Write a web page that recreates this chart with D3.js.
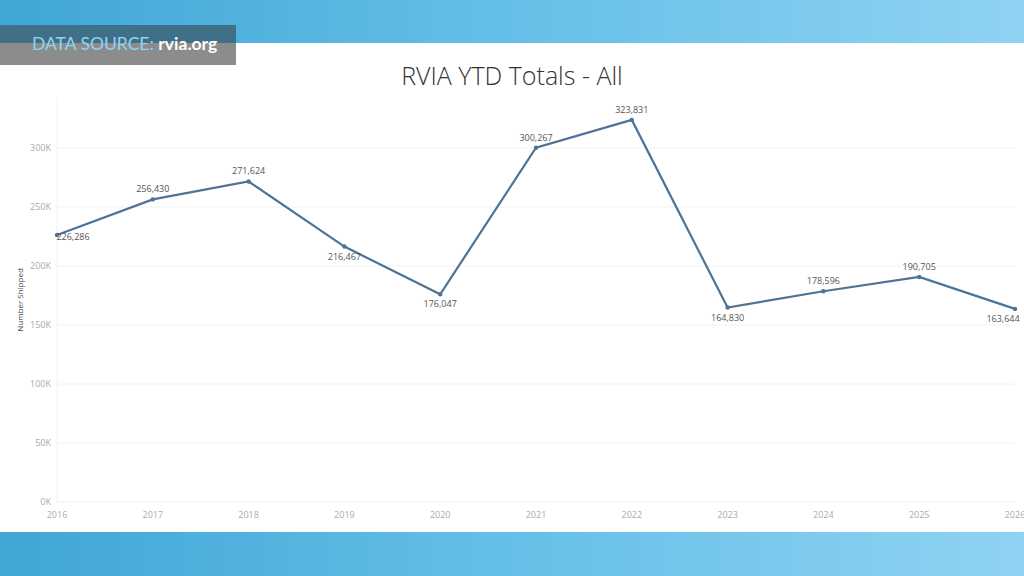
<!DOCTYPE html>
<html><head><meta charset="utf-8">
<script src="https://cdn.jsdelivr.net/npm/d3@7"></script>
<style>body{margin:0;overflow:hidden}svg{display:block}</style>
</head><body>
<svg id="chart" width="1024" height="576"></svg>
<script>
"use strict";

const years = [2016, 2017, 2018, 2019, 2020, 2021, 2022, 2023, 2024, 2025, 2026];
const shipped = [226286, 256430, 271624, 216467, 176047, 300267, 323831, 164830, 178596, 190705, 163644];
const yTicks = [0, 50000, 100000, 150000, 200000, 250000, 300000];
// label above (-1) or below (1) the point
const labelSide = [1, -1, -1, 1, 1, -1, -1, 1, -1, -1, 1];

const svg = d3.select("#chart");
const width = 1024, height = 576;

const defs = svg.append("defs");
const grad = defs.append("linearGradient").attr("id", "band").attr("x1", 0).attr("x2", 1);
grad.append("stop").attr("offset", 0).attr("stop-color", "#3fa6d6");
grad.append("stop").attr("offset", 0.5).attr("stop-color", "#66bfe8");
grad.append("stop").attr("offset", 1).attr("stop-color", "#8fd3f2");

svg.append("rect").attr("width", width).attr("height", height).attr("fill", "url(#band)");
svg.append("rect").attr("y", 43).attr("width", width).attr("height", 489).attr("fill", "#fff");

// source banner
svg.append("rect").attr("y", 25).attr("width", 236).attr("height", 18).attr("fill", "#3f7088");
svg.append("rect").attr("y", 43).attr("width", 236).attr("height", 22).attr("fill", "#8c8c8c");
const src = svg.append("text").attr("x", 32).attr("y", 46).attr("font-family", "Lato, 'Open Sans', sans-serif")
  .attr("font-size", 17.5).attr("dominant-baseline", "middle");
src.append("tspan").attr("fill", "#8fd4f0").text("DATA SOURCE: ");
src.append("tspan").attr("fill", "#fff").attr("font-weight", "bold").text("rvia.org");

svg.append("text").attr("x", 512).attr("y", 85).attr("text-anchor", "middle")
  .attr("font-family", "'Open Sans', sans-serif").attr("font-weight", 300)
  .attr("font-size", 25).attr("fill", "#333").text("RVIA YTD Totals - All");

const x = d3.scaleLinear().domain([2016, 2026]).range([57, 1015]);
const y = d3.scaleLinear().domain([0, 300000]).range([502, 148]);

const g = svg.append("g").attr("font-family", "'Open Sans', sans-serif");

g.append("g").selectAll("line").data(yTicks).join("line")
  .attr("x1", 57).attr("x2", 1015).attr("y1", d => y(d)).attr("y2", d => y(d))
  .attr("stroke", "#f2f2f2");
g.append("line").attr("x1", 57).attr("x2", 57).attr("y1", 98).attr("y2", 502).attr("stroke", "#f2f2f2");

g.append("g").selectAll("text").data(yTicks).join("text")
  .attr("x", 51).attr("y", d => y(d)).attr("dy", "0.35em").attr("text-anchor", "end")
  .attr("font-size", 9).attr("fill", "#aaa").text(d => d / 1000 + "K");

g.append("g").selectAll("text").data(years).join("text")
  .attr("x", d => x(d)).attr("y", 518).attr("text-anchor", "middle")
  .attr("font-size", 9).attr("fill", "#aaa").text(d => d);

g.append("text").attr("transform", "translate(23,300) rotate(-90)").attr("text-anchor", "middle")
  .attr("font-size", 8).attr("fill", "#444").text("Number Shipped");

const line = d3.line().x((d, i) => x(years[i])).y(d => y(d));
g.append("path").datum(shipped).attr("d", line).attr("fill", "none")
  .attr("stroke", "#4e7396").attr("stroke-width", 2.2);

g.append("g").selectAll("circle").data(shipped).join("circle")
  .attr("cx", (d, i) => x(years[i])).attr("cy", d => y(d)).attr("r", 2.2).attr("fill", "#4e7396");

const fmt = d3.format(",");
g.append("g").selectAll("text").data(shipped).join("text")
  .attr("x", (d, i) => x(years[i]) + (i === 0 ? 16 : i === 10 ? -12 : 0))
  .attr("y", (d, i) => y(d) + (labelSide[i] > 0 ? (i === 0 ? 5 : 13) : -7))
  .attr("text-anchor", "middle").attr("font-size", 9).attr("fill", "#555")
  .text(d => fmt(d));
</script>
</body></html>
